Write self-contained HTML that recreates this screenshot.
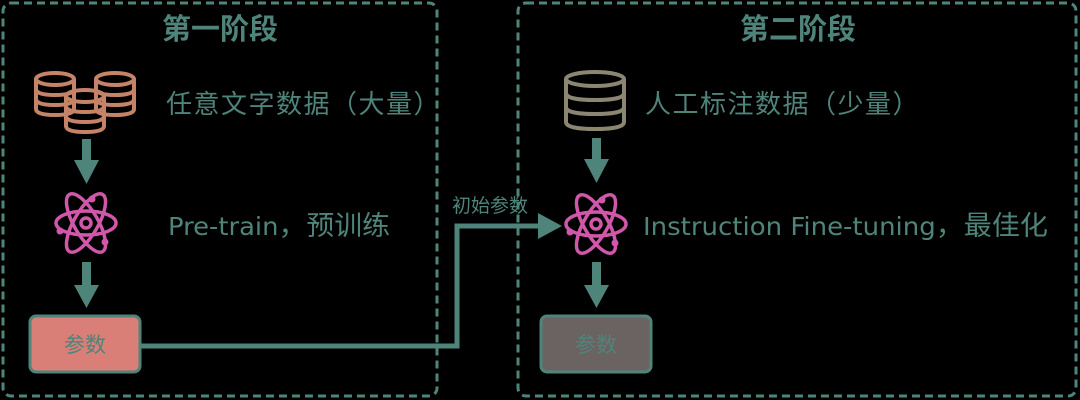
<!DOCTYPE html>
<html><head><meta charset="utf-8"><style>
html,body{margin:0;padding:0;background:#000;}
svg{display:block}
text{font-family:"DejaVu Sans","Noto Sans CJK SC",sans-serif;fill:#4f847b}
</style></head><body>
<svg width="1080" height="400" viewBox="0 0 1080 400" xmlns="http://www.w3.org/2000/svg">
<defs>
<g id="cyl" fill="none" stroke-width="4" stroke-linecap="round">
<ellipse cx="0" cy="6" rx="19" ry="6"/>
<path d="M-19 6 V36 Q-19 42 0 42 Q19 42 19 36 V6"/>
<path d="M-19 16 Q-19 22 0 22 Q19 22 19 16"/>
<path d="M-19 26 Q-19 32 0 32 Q19 32 19 26"/>
</g>
<g id="cyl2" fill="none" stroke-width="4" stroke-linecap="round">
<ellipse cx="0" cy="7" rx="29" ry="7"/>
<path d="M-29 7 V50 Q-29 57 0 57 Q29 57 29 50 V7"/>
<path d="M-29 21 Q-29 28 0 28 Q29 28 29 21"/>
<path d="M-29 35 Q-29 42 0 42 Q29 42 29 35"/>
</g>
<g id="atom" fill="none" stroke="#d157aa" stroke-width="3.5">
<ellipse cx="0" cy="0" rx="33" ry="12" transform="rotate(60)"/>
<ellipse cx="0" cy="0" rx="33" ry="12" transform="rotate(-60)"/>
<ellipse cx="0" cy="0" rx="30" ry="12"/>
<circle cx="0" cy="0" r="5"/>
<circle cx="6" cy="-24" r="3.5" fill="#d157aa" stroke="none"/>
<circle cx="-26" cy="8" r="3.5" fill="#d157aa" stroke="none"/>
<circle cx="19" cy="19" r="3.5" fill="#d157aa" stroke="none"/>
</g>
</defs>
<rect x="3" y="3" width="434" height="393" rx="8" fill="none" stroke="#4f847b" stroke-width="3" stroke-dasharray="8 5"/>
<rect x="518" y="3" width="558" height="393" rx="8" fill="none" stroke="#4f847b" stroke-width="3" stroke-dasharray="8 5"/>
<text x="220" y="39" font-size="29" font-weight="bold" text-anchor="middle">第一阶段</text>
<text x="798" y="39" font-size="29" font-weight="bold" text-anchor="middle">第二阶段</text>
<g stroke="#c58368">
<use href="#cyl" x="55" y="73"/>
<use href="#cyl" x="115" y="73"/>
<use href="#cyl" x="85" y="90"/>
</g>
<text x="166" y="113" font-size="26" letter-spacing="1.5">任意文字数据（大量）</text>
<rect x="82" y="139" width="9" height="24" fill="#4f847b"/>
<path d="M74 160 L99 160 L86.5 184 Z" fill="#4f847b"/>
<use href="#atom" x="86" y="223"/>
<text x="168" y="235" font-size="25" textLength="222" lengthAdjust="spacingAndGlyphs">Pre-train<tspan font-size="27">，预训练</tspan></text>
<rect x="82" y="262" width="9" height="26" fill="#4f847b"/>
<path d="M74 285 L99 285 L86.5 308 Z" fill="#4f847b"/>
<rect x="30" y="316" width="110" height="56" rx="6" fill="#d97f78" stroke="#4f847b" stroke-width="3"/>
<text x="85" y="352" font-size="21" text-anchor="middle" fill="#4f847b">参数</text>
<path d="M141 346 H457 V226 H542" fill="none" stroke="#4f847b" stroke-width="5"/>
<path d="M538 213 L562 226 L538 239 Z" fill="#4f847b"/>
<text x="452" y="212" font-size="19">初始参数</text>
<g stroke="#8a8672"><use href="#cyl2" x="595" y="72"/></g>
<text x="645" y="113" font-size="26" letter-spacing="1.5">人工标注数据（少量）</text>
<rect x="592" y="138" width="9" height="24" fill="#4f847b"/>
<path d="M584 159 L609 159 L596.5 183 Z" fill="#4f847b"/>
<use href="#atom" x="596" y="224"/>
<text x="643" y="235" font-size="25" textLength="405" lengthAdjust="spacingAndGlyphs">Instruction Fine-tuning<tspan font-size="27">，最佳化</tspan></text>
<rect x="592" y="262" width="9" height="26" fill="#4f847b"/>
<path d="M584 285 L609 285 L596.5 308 Z" fill="#4f847b"/>
<rect x="541" y="316" width="110" height="56" rx="6" fill="#6b6262" stroke="#4f847b" stroke-width="3"/>
<text x="596" y="352" font-size="21" text-anchor="middle" fill="#4f847b">参数</text>
</svg>
</body></html>
